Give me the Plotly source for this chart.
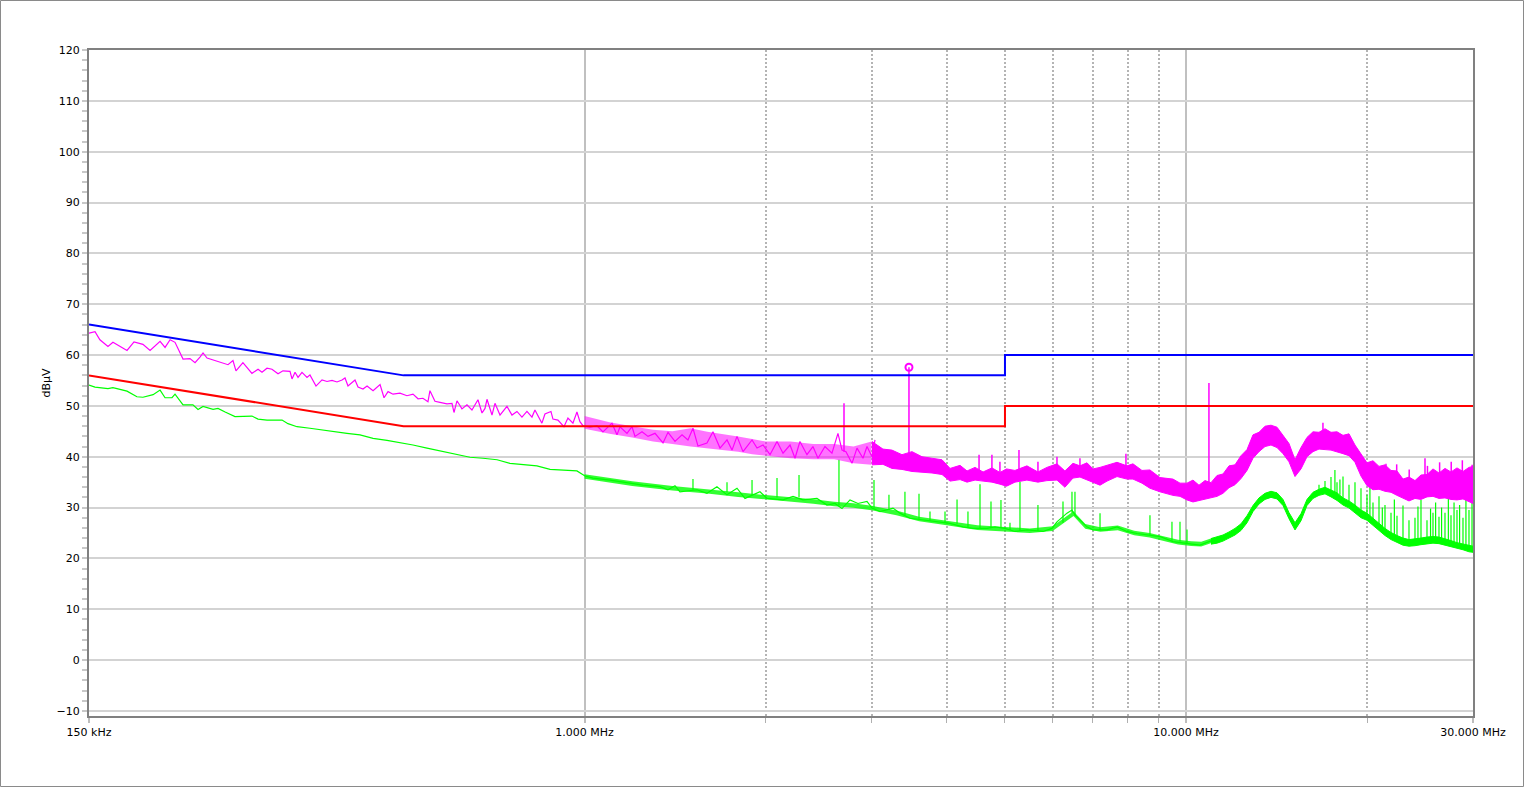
import math
import plotly.graph_objects as go

# ---------------- data (frequency in MHz, level in dBuV) ----------------
limit_f = [0.15, 0.5, 5.0, 5.0, 30.0]
limit_qp = [66, 56, 56, 60, 60]
limit_av = [56, 46, 46, 50, 50]

peak_f = [0.1500, 0.1535, 0.1564, 0.1613, 0.1644, 0.1735, 0.1782, 0.1844, 0.1895, 0.1969,
          0.2007, 0.2046, 0.2085, 0.2150, 0.2208, 0.2251, 0.2294, 0.2321, 0.2357, 0.2477,
          0.2554, 0.2603, 0.2633, 0.2704, 0.2799, 0.2865, 0.2909, 0.2965, 0.3022, 0.3093,
          0.3152, 0.3238, 0.3263, 0.3301, 0.3339, 0.3390, 0.3456, 0.3495, 0.3577, 0.3660,
          0.3731, 0.3803, 0.3876, 0.3951, 0.3997, 0.4043, 0.4153, 0.4201, 0.4282, 0.4349,
          0.4450, 0.4571, 0.4641, 0.4713, 0.4804, 0.4933, 0.5067, 0.5185, 0.5286, 0.5387,
          0.5491, 0.5533, 0.5640, 0.5749, 0.5906, 0.6020, 0.6066, 0.6136, 0.6254, 0.6375,
          0.6498, 0.6649, 0.6753, 0.6831, 0.6883, 0.7016, 0.7097, 0.7234, 0.7430, 0.7574,
          0.7720, 0.7869, 0.8021, 0.8176, 0.8270, 0.8494, 0.8593, 0.8793, 0.8860, 0.9031,
          0.9241, 0.9384, 0.9565, 0.9713, 0.9825, 0.9939, 1.0209, 1.0487, 1.0730, 1.1107,
          1.1322, 1.1453, 1.1764, 1.1991, 1.2130, 1.2460, 1.2749, 1.3096, 1.3503, 1.3764,
          1.4137, 1.4523, 1.4856, 1.5145, 1.5438, 1.5978, 1.6350, 1.6796, 1.7252, 1.7585,
          1.7925, 1.8342, 1.8986, 1.9353, 1.9802, 2.0340, 2.0892, 2.1378, 2.1959, 2.2383,
          2.2808, 2.3429, 2.3972, 2.4440, 2.5101, 2.5782, 2.6382, 2.6793, 2.7204, 2.7837,
          2.8376, 2.9036, 2.9484, 3.0053, 3.0401]
peak_db = [64.3, 64.6, 63.0, 61.7, 62.5, 60.9, 62.6, 62.1, 60.9, 62.7,
           61.5, 63.0, 62.5, 59.2, 59.3, 58.5, 59.6, 60.4, 59.4, 58.6,
           58.1, 58.9, 56.9, 58.5, 56.4, 57.2, 56.6, 57.4, 57.2, 56.3,
           56.9, 56.8, 55.3, 56.6, 55.6, 56.6, 55.6, 56.1, 53.9, 55.1,
           54.8, 55.0, 54.7, 55.1, 55.5, 53.9, 55.1, 53.7, 53.3, 53.9,
           53.0, 54.2, 51.6, 52.8, 52.3, 52.5, 52.0, 52.3, 51.4, 51.5,
           50.8, 53.0, 50.9, 50.7, 50.4, 50.5, 48.7, 51.0, 49.4, 50.2,
           49.2, 51.2, 48.6, 49.5, 51.3, 48.2, 50.5, 48.2, 49.9, 48.2,
           48.9, 47.8, 48.9, 47.8, 49.2, 46.6, 48.4, 48.9, 47.4, 47.2,
           45.9, 47.6, 46.6, 48.8, 46.9, 46.1, 45.8, 46.1, 44.9, 46.6,
           44.3, 45.9, 44.6, 45.9, 44.0, 44.9, 44.0, 44.6, 42.7, 44.8,
           43.0, 44.3, 43.3, 45.6, 42.1, 42.7, 44.9, 41.7, 43.3, 41.3,
           44.0, 41.0, 43.3, 41.7, 42.3, 40.4, 43.0, 40.7, 42.3, 39.7,
           43.0, 40.4, 42.0, 39.7, 42.0, 40.7, 44.6, 41.3, 41.0, 38.7,
           41.7, 39.7, 42.0, 40.0, 43.3]

# spread of the peak trace between 1 and 3 MHz (upper / lower extent)
peak_mid_f = [1.0, 1.1, 1.2, 1.3, 1.4, 1.5, 1.6, 1.7, 1.8, 1.9, 2.0, 2.2, 2.4, 2.6, 2.8, 3.0]
peak_mid_hi = [48.0, 46.8, 46.0, 45.3, 45.0, 45.6, 44.9, 44.5, 44.0, 43.5, 43.0, 43.0, 42.5, 42.5, 42.0, 43.0]
peak_mid_lo = [45.5, 44.5, 43.8, 43.0, 42.5, 42.0, 41.6, 41.3, 41.0, 40.5, 40.2, 39.7, 39.5, 39.5, 38.7, 38.4]

# dense part of the peak trace (upper / lower extent)
peak_band_f = [3.005, 3.134, 3.244, 3.371, 3.503, 3.639, 3.781, 3.929, 4.052, 4.210,
               4.324, 4.459, 4.598, 4.757, 4.905, 5.030, 5.195, 5.439, 5.673, 5.872,
               6.102, 6.290, 6.487, 6.663, 6.845, 7.004, 7.195, 7.390, 7.678, 7.976,
               8.162, 8.448, 8.710, 9.050, 9.512, 9.772,
               10.037, 10.270, 10.509, 10.753, 11.003, 11.259, 11.520, 11.788, 12.062, 12.342,
               12.629, 12.922, 13.223, 13.530, 13.844, 14.166, 14.495, 14.832, 15.177, 15.529,
               15.890, 16.259, 16.637, 17.024, 17.419, 17.824, 18.238, 18.662, 19.095, 19.539,
               19.993, 20.457, 20.933, 21.419, 21.917, 22.426, 22.947, 23.480, 24.026, 24.584,
               25.155, 25.740, 26.338, 26.950, 27.576, 28.217, 28.872, 29.543, 30.000]
peak_band_hi = [43.0, 41.5, 41.3, 40.4, 41.0, 40.0, 39.7, 39.4, 37.7, 38.3,
                37.2, 37.9, 37.0, 37.8, 36.9, 37.6, 37.3, 38.2, 37.0, 37.9,
                38.6, 37.2, 38.7, 38.2, 38.8, 37.6, 37.9, 38.3, 38.9, 38.2,
                38.6, 37.3, 37.4, 35.9, 35.6, 34.8,
                34.8, 35.4, 34.4, 35.3, 34.9, 36.3, 36.6, 38.2, 38.4, 40.2,
                41.4, 44.3, 44.8, 46.0, 46.2, 45.8, 44.2, 42.6, 39.4, 41.8,
                43.8, 44.9, 44.8, 45.5, 44.8, 44.9, 44.2, 44.5, 42.3, 40.6,
                38.8, 39.2, 38.1, 38.4, 37.3, 37.2, 35.6, 36.0, 35.3, 36.4,
                36.5, 37.6, 36.8, 37.7, 37.0, 37.8, 37.1, 37.9, 38.1]
peak_band_lo = [38.4, 38.5, 37.7, 37.5, 37.1, 37.0, 36.8, 36.5, 35.2, 35.5,
                35.0, 35.4, 35.2, 35.0, 34.6, 34.2, 35.0, 35.4, 35.0, 35.3,
                35.4, 34.0, 35.8, 36.0, 35.4, 35.0, 34.4, 35.2, 36.1, 35.6,
                35.6, 34.8, 33.8, 33.1, 32.4, 32.2,
                31.5, 31.1, 31.3, 31.6, 31.9, 32.2, 32.8, 33.9, 34.5, 35.7,
                37.3, 39.7, 41.0, 42.0, 42.3, 41.8, 40.6, 39.0, 36.1, 37.6,
                40.0, 41.0, 41.5, 41.4, 41.3, 41.0, 40.6, 40.2, 38.9, 36.2,
                34.3, 33.5, 33.6, 33.2, 33.0, 32.4, 31.8, 31.3, 31.8, 31.6,
                32.1, 32.2, 31.8, 31.9, 31.6, 31.5, 31.7, 31.2, 30.8]

peak_spike_f = [2.6999, 3.4623, 10.917, 4.5276, 4.7565, 4.9046, 5.2755, 5.6729, 6.1017,
                6.6629, 7.9455, 16.891, 20.50, 21.50, 22.40, 23.50, 24.963, 25.20, 26.40,
                27.60, 28.80, 29.90]
peak_spike_top = [50.5, 57.6, 54.5, 40.4, 40.4, 39.0, 41.3, 39.0, 40.0,
                  39.7, 40.6, 46.7, 39.0, 38.6, 38.5, 37.5, 39.7, 38.2, 38.9,
                  39.0, 39.3, 38.4]
peak_spike_base = [41.0, 38.0, 33.0, 36.0, 36.0, 36.0, 36.0, 36.0, 36.0,
                   37.0, 37.0, 43.0, 35.0, 35.0, 35.0, 34.0, 34.0, 34.0, 34.0,
                   34.0, 34.0, 34.0]

marker_f = [3.4623]
marker_db = [57.6]

avg_f = [0.1500, 0.1535, 0.1613, 0.1644, 0.1735, 0.1802, 0.1844, 0.1917, 0.1969, 0.2007,
         0.2061, 0.2085, 0.2150, 0.2233, 0.2277, 0.2321, 0.2412, 0.2458, 0.2526, 0.2623,
         0.2799, 0.2865, 0.2965, 0.3141, 0.3213, 0.3326, 0.3495, 0.3632, 0.3817, 0.4027,
         0.4233, 0.4450, 0.4694, 0.4933, 0.5185, 0.5471, 0.5816, 0.6136, 0.6449, 0.6778,
         0.7155, 0.7516, 0.7899, 0.8333, 0.8762, 0.9206, 0.9713, 1.0016, 1.0327, 1.1023,
         1.1764, 1.2505, 1.3347, 1.3764, 1.4137, 1.4408, 1.5377, 1.5978, 1.6601, 1.7252,
         1.7925, 1.8482, 1.9574, 2.0106, 2.1378, 2.2211, 2.3073, 2.4345, 2.5296, 2.6081,
         2.6793, 2.7624, 2.8483, 2.9484, 3.0053, 3.0990, 3.2567, 3.3450, 3.4755, 3.6531,
         3.8546, 4.0515, 4.2569, 4.4240, 4.6670, 4.8117, 5.0000, 5.1954, 5.4390, 5.7825,
         5.9858, 6.1017, 6.3396, 6.4622, 6.5366, 6.6629, 6.8445, 7.0040, 7.3896, 7.6782,
         7.9763, 8.2877, 8.7104, 9.0497, 9.5124, 10.037, 10.546, 11.085]
avg_db = [54.1, 53.7, 53.4, 53.6, 52.9, 51.8, 51.7, 52.2, 53.1, 51.6,
          51.6, 52.3, 50.2, 50.2, 49.3, 49.9, 49.3, 49.5, 48.8, 47.9,
          48.0, 47.4, 47.2, 47.2, 46.5, 45.9, 45.6, 45.3, 44.9, 44.6,
          44.3, 43.6, 43.2, 42.8, 42.3, 41.7, 41.0, 40.4, 39.9, 39.7,
          39.4, 38.7, 38.4, 38.2, 37.5, 37.3, 37.2, 36.2, 35.8, 35.4,
          34.9, 34.4, 34.1, 33.5, 34.3, 33.1, 33.5, 32.8, 34.1, 32.5,
          33.8, 31.8, 33.1, 31.8, 31.5, 32.2, 31.5, 31.8, 30.5, 30.8,
          29.8, 31.5, 30.8, 31.2, 29.9, 29.2, 29.9, 28.9, 27.9, 27.6,
          27.2, 26.9, 26.2, 25.9, 25.9, 26.2, 25.9, 25.3, 25.6, 25.3,
          25.9, 27.2, 28.9, 29.5, 28.5, 27.6, 26.2, 25.6, 25.6, 26.2,
          25.3, 24.9, 24.6, 24.3, 23.3, 23.0, 22.6, 23.6]

# spread of the average trace between 1 and 11 MHz
avg_mid_f = [1.0, 1.2, 1.4, 1.6, 1.8, 2.0, 2.2, 2.4, 2.6, 2.8,
             3.0, 3.3, 3.6, 4.0, 4.5, 5.0, 5.5, 6.0, 6.3, 6.5,
             6.8, 7.2, 7.7, 8.2, 8.7, 9.2, 9.7, 10.2, 10.6, 11.085]
avg_mid_hi = [36.55, 35.15, 34.25, 33.65, 33.0, 32.45, 32.05, 31.65, 31.15, 30.85,
              30.35, 29.4, 28.2, 27.4, 26.5, 26.2, 25.9, 26.3, 28.15, 29.25,
              26.75, 26.15, 26.45, 25.45, 25.0, 24.25, 23.65, 23.35, 23.25, 24.05]
avg_mid_lo = [35.65, 34.25, 33.35, 32.75, 32.1, 31.55, 31.15, 30.75, 30.25, 29.95,
              29.45, 28.5, 27.3, 26.5, 25.6, 25.3, 25.0, 25.4, 27.25, 28.35,
              25.85, 25.25, 25.55, 24.55, 24.1, 23.35, 22.75, 22.45, 22.35, 23.15]

# dense part of the average trace
avg_band_f = [11.003, 11.259, 11.520, 11.788, 12.062, 12.342,
              12.629, 12.922, 13.223, 13.530, 13.844, 14.166, 14.495, 14.832, 15.177, 15.529,
              15.890, 16.259, 16.637, 17.024, 17.419, 17.824, 18.238, 18.662, 19.095, 19.539,
              19.993, 20.457, 20.933, 21.419, 21.917, 22.426, 22.947, 23.480, 24.026, 24.584,
              25.155, 25.740, 26.338, 26.950, 27.576, 28.217, 28.872, 29.543, 30.000]
avg_band_hi = [23.9, 24.2, 24.6, 25.2, 25.9, 26.8,
               28.4, 30.4, 31.9, 32.8, 33.2, 32.9, 31.6, 29.0, 27.0, 28.8,
               31.6, 33.0, 33.6, 34.0, 33.5, 32.9, 31.9, 31.3, 30.5, 29.5,
               28.9, 27.8, 26.9, 25.9, 25.1, 24.5, 24.0, 23.7, 23.8, 24.0,
               24.2, 24.3, 24.2, 23.9, 23.5, 23.1, 22.8, 22.5, 22.4]
avg_band_lo = [22.8, 23.0, 23.4, 24.0, 24.6, 25.5,
               27.0, 29.2, 30.7, 31.6, 32.0, 31.7, 30.4, 27.8, 25.6, 27.4,
               30.4, 31.8, 32.4, 32.7, 32.1, 31.4, 30.5, 29.9, 29.0, 28.0,
               27.5, 26.4, 25.5, 24.5, 23.7, 23.1, 22.6, 22.4, 22.5, 22.7,
               22.9, 23.0, 22.9, 22.6, 22.3, 22.0, 21.7, 21.3, 21.2]

avg_spike_f = [1.5145, 1.7252, 1.8986, 2.0892, 2.2728, 2.6484, 3.0285, 3.2070, 3.4095, 3.5978,
               3.7524, 3.9746, 4.1619, 4.3395, 4.5443, 4.7396, 4.9239, 5.0969, 5.2958, 5.6729,
               6.2436, 6.4622, 6.5366, 7.1945, 8.7104, 9.4763, 9.7718, 10.037,
               16.637, 17.024, 17.419, 17.683, 17.824, 18.025, 18.238, 18.662, 19.095, 19.539,
               19.993, 20.219, 20.457, 20.933, 21.200, 21.419, 21.917, 22.200, 22.426, 22.947,
               23.480, 24.026, 24.300, 24.584, 25.155, 25.500, 25.740, 26.000, 26.338, 26.600,
               26.950, 27.300, 27.576, 27.900, 28.217, 28.500, 28.872, 29.200, 29.543, 29.886]
avg_spike_top = [35.6, 35.0, 35.4, 35.8, 36.4, 39.4, 35.4, 32.5, 33.1, 32.7,
                 29.2, 29.2, 31.6, 29.2, 34.6, 31.2, 31.5, 27.0, 35.1, 30.5,
                 31.2, 33.1, 33.1, 28.9, 28.5, 27.2, 27.2, 25.7,
                 34.5, 35.2, 36.0, 37.4, 35.0, 35.5, 36.1, 34.5, 35.0, 33.8,
                 32.5, 34.0, 31.0, 32.2, 30.0, 30.5, 29.0, 31.6, 28.4, 30.4,
                 27.5, 28.0, 30.2, 31.5, 27.5, 29.8, 29.0, 31.0, 28.2, 30.0,
                 29.0, 32.0, 28.5, 31.0, 29.5, 30.5, 28.0, 31.5, 29.5, 31.0]
avg_spike_base = [33.5, 33.0, 32.5, 32.0, 32.0, 30.5, 30.0, 29.5, 28.5, 27.8,
                  27.4, 27.0, 26.8, 26.2, 26.0, 26.0, 26.0, 25.6, 25.4, 25.4,
                  27.0, 29.0, 28.5, 25.6, 24.6, 23.5, 23.3, 23.0,
                  33.0, 33.0, 33.0, 33.0, 32.5, 32.5, 31.5, 31.0, 30.0, 29.0,
                  28.5, 28.0, 27.5, 26.5, 26.0, 25.5, 25.0, 24.5, 24.2, 23.8,
                  23.6, 23.6, 23.8, 23.8, 24.0, 24.0, 24.0, 24.0, 24.0, 24.0,
                  23.8, 23.6, 23.4, 23.2, 23.0, 22.8, 22.6, 22.5, 22.4, 22.2]

x_tick_vals = [0.15, 1.0, 10.0, 30.0]
x_tick_text = ["150 kHz", "1.000 MHz", "10.000 MHz", "30.000 MHz"]
x_minor_vals = [2, 3, 4, 5, 6, 7, 8, 9, 20]

MAGENTA = "#FF00FF"
GREEN = "#00FF00"
BLUE = "#0000FF"
RED = "#FF0000"


def spike_path(f, top, base):
    xs, ys = [], []
    for fi, t, b in zip(f, top, base):
        xs += [fi, fi, None]
        ys += [b, t, None]
    return xs, ys


def band_path(f, hi, lo):
    return list(f) + list(f)[::-1], list(hi) + list(lo)[::-1]


def add_band(fig, f, hi, lo, fillcolor, linecolor):
    bx, by = band_path(f, hi, lo)
    fig.add_trace(go.Scatter(x=bx, y=by, mode="lines", fill="toself", fillcolor=fillcolor,
                             line=dict(color=linecolor, width=1), hoverinfo="skip"))


fig = go.Figure()

# average (green)
add_band(fig, avg_mid_f, avg_mid_hi, avg_mid_lo, "rgba(0,255,0,0.8)", "rgba(0,255,0,0)")
add_band(fig, avg_band_f, avg_band_hi, avg_band_lo, GREEN, GREEN)
fig.add_trace(go.Scatter(x=avg_f, y=avg_db, mode="lines", line=dict(color=GREEN, width=1.2)))
sx, sy = spike_path(avg_spike_f, avg_spike_top, avg_spike_base)
fig.add_trace(go.Scatter(x=sx, y=sy, mode="lines", line=dict(color=GREEN, width=1.2)))

# peak (magenta)
add_band(fig, peak_mid_f, peak_mid_hi, peak_mid_lo, "rgba(255,0,255,0.55)", "rgba(255,0,255,0)")
add_band(fig, peak_band_f, peak_band_hi, peak_band_lo, MAGENTA, MAGENTA)
fig.add_trace(go.Scatter(x=peak_f, y=peak_db, mode="lines", line=dict(color=MAGENTA, width=1.2)))
sx, sy = spike_path(peak_spike_f, peak_spike_top, peak_spike_base)
fig.add_trace(go.Scatter(x=sx, y=sy, mode="lines", line=dict(color=MAGENTA, width=1.5)))
fig.add_trace(go.Scatter(x=marker_f, y=marker_db, mode="markers",
                         marker=dict(symbol="circle-open", size=7, color=MAGENTA,
                                     line=dict(width=2, color=MAGENTA))))

# limits
fig.add_trace(go.Scatter(x=limit_f, y=limit_qp, mode="lines", line=dict(color=BLUE, width=2)))
fig.add_trace(go.Scatter(x=limit_f, y=limit_av, mode="lines", line=dict(color=RED, width=2)))

FONT = "DejaVu Sans, Verdana, sans-serif"

fig.update_layout(
    width=1524, height=787,
    margin=dict(l=89, r=51, t=50, b=71),
    paper_bgcolor="white", plot_bgcolor="white",
    showlegend=False,
    font=dict(family=FONT, size=11, color="#000000"),
    xaxis=dict(
        type="log",
        range=[math.log10(0.15), math.log10(30)],
        tickmode="array", tickvals=x_tick_vals, ticktext=x_tick_text,
        ticks="outside", ticklen=5, tickwidth=2, tickcolor="#bdbdbd",
        showgrid=True, gridcolor="#c0c0c0", gridwidth=2,
        showline=True, linecolor="#808080", linewidth=2, mirror=True,
        zeroline=False,
        tickfont=dict(family=FONT, size=11, color="#000000"),
        minor=dict(tickmode="array", tickvals=x_minor_vals, ticks="outside", ticklen=5,
                   tickwidth=1, tickcolor="#b0b0b0", showgrid=True,
                   gridcolor="#b4b4b4", gridwidth=1.5, griddash="2px,2px"),
    ),
    yaxis=dict(
        range=[-11, 120],
        tickmode="linear", tick0=0, dtick=10,
        ticks="outside", ticklen=5, tickwidth=2, tickcolor="#c8c8c8",
        showgrid=True, gridcolor="#d3d3d3", gridwidth=2,
        showline=True, linecolor="#808080", linewidth=2, mirror=True,
        zeroline=False,
        title=dict(text="dBµV", font=dict(family=FONT, size=11, color="#000000"), standoff=4),
        tickfont=dict(family=FONT, size=11, color="#000000"),
        minor=dict(dtick=2, ticks="outside", ticklen=5, tickwidth=2, tickcolor="#c8c8c8",
                   showgrid=False),
    ),
    shapes=[dict(type="rect", xref="paper", yref="paper",
                 x0=(0.5 - 89) / 1384, x1=(1523.5 - 89) / 1384,
                 y0=(716 - 786.5) / 666, y1=(716 - 0.5) / 666,
                 line=dict(color="#8a8a8a", width=1), fillcolor="rgba(0,0,0,0)", layer="below")],
)

fig.write_html("out.html", config={"displayModeBar": False},
               post_script="document.body.style.margin='0';document.body.style.overflow='hidden';")
